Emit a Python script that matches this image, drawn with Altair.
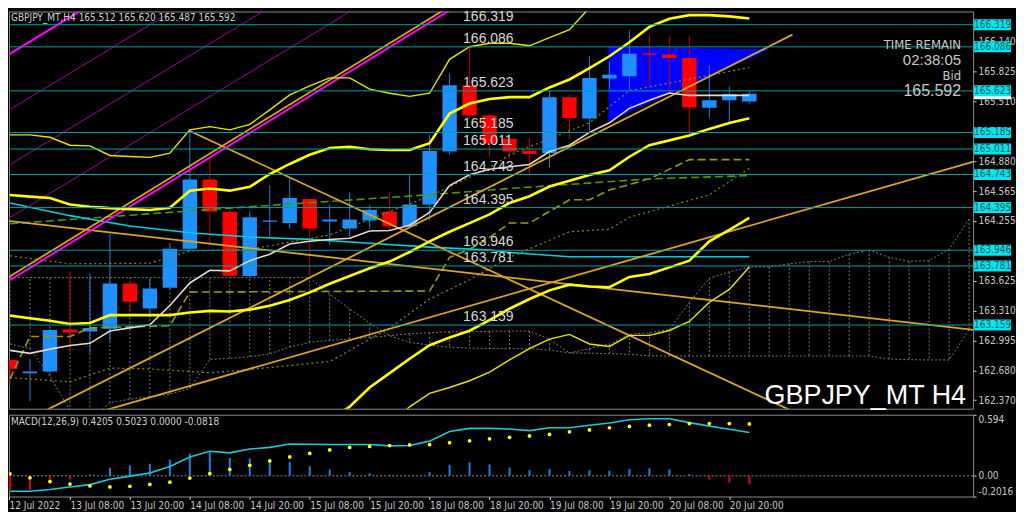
import altair as alt
import pandas as pd

# ---------------- data ----------------
bar_index = list(range(38))
opens = [162.792, 162.651, 162.671, 163.112, 163.092, 163.119, 163.595, 163.333, 163.551, 163.962,
         164.690, 164.350, 163.675, 164.245, 164.232, 164.485, 164.249, 164.174, 164.259, 164.350,
         164.198, 164.427, 164.984, 165.682, 165.365, 165.119, 164.994, 164.967, 165.557, 165.332,
         165.753, 165.777, 166.016, 166.006, 165.969, 165.446, 165.524, 165.512]
highs = [162.800, 162.802, 163.120, 163.726, 163.703, 164.124, 163.600, 163.650, 164.023, 165.203,
         164.900, 164.384, 164.360, 164.630, 164.714, 164.490, 164.427, 164.556, 164.427, 164.556,
         164.748, 165.160, 165.803, 166.080, 165.382, 165.186, 165.125, 165.625, 165.581, 165.986,
         165.929, 166.259, 166.215, 166.198, 166.198, 165.894, 165.669, 165.620]
lows = [162.520, 162.360, 162.650, 162.876, 162.859, 162.995, 163.301, 163.240, 163.530, 163.950,
        164.006, 163.670, 163.660, 164.090, 164.174, 163.668, 164.006, 164.090, 164.174, 164.158,
        164.190, 164.259, 164.950, 165.330, 164.933, 164.917, 164.721, 164.816, 165.119, 165.203,
        165.641, 165.631, 165.666, 165.608, 165.153, 165.338, 165.281, 165.487]
closes = [162.697, 162.671, 163.106, 163.082, 163.129, 163.595, 163.405, 163.544, 163.962, 164.690,
          164.353, 163.678, 164.293, 164.260, 164.495, 164.174, 164.269, 164.269, 164.371, 164.198,
          164.427, 164.991, 165.682, 165.365, 165.069, 164.984, 164.960, 165.557, 165.338, 165.757,
          165.793, 166.013, 166.003, 165.969, 165.449, 165.524, 165.591, 165.592]

levels = [166.319, 166.086, 165.623, 165.185, 165.011, 164.743, 164.395, 163.946, 163.781, 163.159]
axis_prices = [166.140, 165.825, 165.510, 164.880, 164.565, 164.255, 163.625, 163.310, 162.995, 162.680, 162.370]
bid_price = [165.592]

band_thin_up_idx = list(range(30))
band_thin_up = [165.160, 165.160, 165.135, 165.051, 165.044, 164.943, 164.933, 164.923, 164.968, 165.213,
                165.247, 165.213, 165.271, 165.423, 165.581, 165.676, 165.760, 165.760, 165.641, 165.598,
                165.565, 165.598, 165.955, 166.087, 166.124, 166.124, 166.097, 166.182, 166.266, 166.498]
band_thick_up = [164.528, 164.510, 164.495, 164.427, 164.404, 164.389, 164.379, 164.369, 164.394, 164.573,
                 164.596, 164.573, 164.613, 164.748, 164.854, 164.950, 165.021, 165.034, 165.008, 165.001,
                 165.001, 165.072, 165.385, 165.490, 165.537, 165.557, 165.557, 165.659, 165.743, 165.861,
                 165.987, 166.134, 166.296, 166.382, 166.420, 166.420, 166.407, 166.384]
band_mid = [163.258, 163.230, 163.205, 163.170, 163.180, 163.264, 163.264, 163.264, 163.264, 163.291,
            163.308, 163.301, 163.321, 163.362, 163.423, 163.503, 163.594, 163.675, 163.756, 163.827,
            163.928, 164.040, 164.141, 164.232, 164.323, 164.444, 164.515, 164.616, 164.677, 164.738,
            164.788, 164.930, 165.051, 165.102, 165.153, 165.223, 165.284, 165.335]
band_thick_lo_idx = list(range(15, 38))
band_thick_lo = [162.057, 162.168, 162.299, 162.502, 162.653, 162.805, 162.947, 163.028, 163.099, 163.210,
                 163.331, 163.433, 163.524, 163.584, 163.564, 163.557, 163.665, 163.696, 163.766, 163.837,
                 164.040, 164.161, 164.286]
band_thin_lo_idx = list(range(19, 38))
band_thin_lo = [162.117, 162.299, 162.441, 162.502, 162.573, 162.664, 162.792, 162.910, 163.011, 163.061,
                162.960, 162.934, 163.051, 163.051, 163.102, 163.197, 163.399, 163.534, 163.770]

ma_cyan_idx = [0, 3, 6, 9, 12, 15, 18, 21, 24, 25, 28, 37]
ma_cyan = [164.444, 164.310, 164.202, 164.131, 164.085, 164.060, 164.019, 163.979, 163.949, 163.923, 163.878, 163.878]
ma_beige = [162.893, 162.861, 162.906, 162.944, 162.967, 163.096, 163.129, 163.162, 163.365, 163.602,
            163.736, 163.729, 163.837, 163.905, 164.012, 164.040, 164.060, 164.073, 164.148, 164.154,
            164.209, 164.343, 164.627, 164.741, 164.799, 164.824, 164.849, 164.984, 165.051, 165.186,
            165.287, 165.439, 165.524, 165.601, 165.575, 165.575, 165.575, 165.575]

dash_green_idx = [0, 12, 21, 25, 32, 37]
dash_green = [164.225, 164.404, 164.530, 164.596, 164.697, 164.731]
dash_olive_idx = [0, 1, 3, 4, 8, 9, 21, 22, 23, 24, 25, 26, 28, 29, 30, 32, 34, 37]
dash_olive = [162.593, 163.038, 163.038, 163.129, 163.152, 163.506, 163.517, 163.871, 163.956, 164.080,
              164.232, 164.232, 164.478, 164.478, 164.579, 164.697, 164.900, 164.900]
dot_olive_hi_idx = [0, 3, 7, 9, 12, 16, 21, 24, 25, 29, 31, 37]
dot_olive_hi = [163.888, 163.804, 163.810, 163.938, 163.956, 164.108, 164.515, 164.816, 164.950, 165.287, 165.625, 165.868]
dot_olive_lo_idx = [0, 3, 5, 7, 10, 12, 16, 19, 21, 23, 25, 28, 30, 31, 33, 35, 37]
dot_olive_lo = [162.606, 162.562, 162.707, 162.697, 162.657, 162.691, 162.775, 163.129, 163.433, 163.635,
                163.871, 164.141, 164.168, 164.293, 164.411, 164.528, 164.809]

cloud_idx = list(range(49))
span_a = [162.960, 162.910, 162.623, 162.259, 162.168, 162.340, 162.380, 162.404, 162.431, 162.492,
          162.798, 162.808, 162.826, 162.856, 162.927, 162.977, 162.998, 163.011, 163.028, 163.048,
          163.068, 163.078, 163.089, 163.089, 163.094, 163.096, 163.096, 163.011, 162.866, 162.910,
          162.960, 163.061, 163.078, 163.112, 163.399, 163.652, 163.719, 163.770, 163.770, 163.804,
          163.827, 163.827, 163.905, 163.949, 163.871, 163.830, 163.837, 163.956, 164.275]
span_b = [163.658, 163.658, 163.658, 163.658, 163.658, 163.658, 163.658, 163.658, 163.658, 163.658,
          163.658, 163.658, 163.658, 163.658, 163.658, 163.658, 163.483, 163.331, 163.180, 163.048,
          162.977, 162.947, 162.927, 162.917, 162.912, 162.910, 162.910, 162.896, 162.866, 162.863,
          162.859, 162.851, 162.836, 162.833, 162.833, 162.833, 162.833, 162.833, 162.833, 162.833,
          162.833, 162.833, 162.833, 162.833, 162.802, 162.795, 162.792, 162.792, 163.112]

# straight trend lines: ([idx0, idx1], [price0, price1])
trend_gold = [([-0.2, 23.0], [163.646, 166.640]),
              ([1.87, 39.16], [162.269, 166.215]),
              ([4.53, 48.23], [162.249, 164.879]),
              ([8.97, 39.41], [165.203, 162.229]),
              ([-0.3, 48.23], [164.259, 163.109])]
trend_magenta = [([-0.2, 23.0], [163.606, 166.600]),
                 ([-0.3, 4.0], [165.975, 166.526])]
trend_purple = [([-0.3, 8.57], [165.388, 166.519]),
                ([-0.3, 13.13], [164.809, 166.519]),
                ([-0.3, 17.5], [164.252, 166.519])]

tri_idx = [29.95, 38.03]
tri_top = [166.087, 166.063]
tri_bot = [165.304, 166.063]

macd_main = [-0.151, -0.151, -0.133, -0.109, -0.086, -0.034, -0.003, 0.028, 0.090, 0.183,
             0.239, 0.223, 0.260, 0.276, 0.309, 0.306, 0.304, 0.304, 0.304, 0.291,
             0.294, 0.337, 0.430, 0.461, 0.461, 0.455, 0.439, 0.467, 0.467, 0.492,
             0.513, 0.545, 0.554, 0.554, 0.517, 0.483, 0.452, 0.421]
macd_signal = [0.019, -0.019, -0.056, -0.080, -0.099, -0.108, -0.102, -0.084, -0.062, -0.022,
               0.022, 0.062, 0.102, 0.145, 0.183, 0.217, 0.251, 0.276, 0.285, 0.294,
               0.300, 0.303, 0.322, 0.340, 0.359, 0.374, 0.387, 0.402, 0.427, 0.446,
               0.467, 0.480, 0.492, 0.498, 0.508, 0.508, 0.508, 0.504]
macd_hist = [-0.161, -0.139, -0.074, -0.037, 0.012, 0.077, 0.102, 0.118, 0.155, 0.217,
             0.226, 0.173, 0.167, 0.142, 0.133, 0.093, 0.062, 0.034, 0.025, 0.009,
             0.0, 0.034, 0.108, 0.130, 0.111, 0.080, 0.056, 0.065, 0.046, 0.053,
             0.050, 0.065, 0.074, 0.062, 0.015, -0.037, -0.068, -0.082]
macd_axis_values = [0.594, 0.0, -0.2016]

tick_index = [-0.05, 3, 6, 9, 12, 15, 18, 21, 24, 27, 30, 33, 36]
tick_labels = ["12 Jul 2022", "13 Jul 08:00", "13 Jul 20:00", "14 Jul 08:00", "14 Jul 20:00",
               "15 Jul 08:00", "15 Jul 20:00", "18 Jul 08:00", "18 Jul 20:00", "19 Jul 08:00",
               "19 Jul 20:00", "20 Jul 08:00", "20 Jul 20:00"]

title_text = ["GBPJPY_MT,H4  165.512 165.620 165.487 165.592"]
macd_text = ["MACD(12,26,9) 0.4205 0.5023 0.0000 -0.0818"]
info_texts = ["TIME REMAIN", "02:38:05", "Bid", "165.592"]
symbol_text = ["GBPJPY_MT H4"]

# ---------------- layout / style ----------------
W, H_MAIN, H_MACD = 966, 398, 82
X_DOM = [-0.05, 48.2]
Y_DOM = [162.279, 166.458]
M_DOM = [-0.2016, 0.594]
NARROW = "Liberation Sans Narrow, Arial Narrow, DejaVu Sans Condensed, Liberation Sans, sans-serif"
SANS = "Liberation Sans, Arial, sans-serif"
AXC = "#C8C8C8"

xs = alt.Scale(domain=X_DOM, nice=False, zero=False)
ys = alt.Scale(domain=Y_DOM, nice=False, zero=False)
ms = alt.Scale(domain=M_DOM, nice=False, zero=False)

AX_MAIN_Y = alt.Axis(orient="right", values=axis_prices, format=".3f", title=None,
                     labelColor=AXC, tickColor=AXC, tickSize=3, domain=False, grid=False,
                     labelPadding=2, labelFont=NARROW, labelFontSize=10)
label_expr = "[" + ",".join("'%s'" % t for t in tick_labels) + "][round(datum.value / 3)]"
AX_MACD_X = alt.Axis(values=tick_index, labelExpr=label_expr, labelAlign="left", labelColor=AXC,
                     tickColor=AXC, tickSize=3, domain=False, grid=False, labelPadding=1,
                     labelFlush=False, labelOverlap=False, title=None, labelFont=NARROW,
                     labelFontSize=10)
AX_MACD_Y = alt.Axis(orient="right", values=macd_axis_values,
                     labelExpr="datum.value == 0 ? '0.00' : datum.value + ''",
                     labelFlush=True, title=None, labelColor=AXC, tickColor=AXC, tickSize=3,
                     domain=False, grid=False, labelPadding=2, labelFont=NARROW, labelFontSize=10)


def X(f="i"):
    return alt.X(f + ":Q", scale=xs, axis=None)


def Y(f="p"):
    return alt.Y(f + ":Q", scale=ys, axis=AX_MAIN_Y)


def series(ix, vals, color, width=1.0, dash=None):
    df = pd.DataFrame({"i": ix, "p": vals})
    kw = dict(clip=True, color=color, strokeWidth=width)
    if dash:
        kw["strokeDash"] = dash
    return alt.Chart(df).mark_line(**kw).encode(x=X(), y=Y())


layers = []

# dotted cloud
cdf = pd.DataFrame({"i": cloud_idx, "a": span_a, "b": span_b})
layers.append(alt.Chart(cdf).mark_rule(clip=True, color="#7A7A7A", strokeDash=[2, 2], strokeWidth=1)
              .encode(x=X(), y=Y("a"), y2="b:Q"))
layers.append(series(cloud_idx, span_a, "#7A7A7A", 1, [2, 2]))
layers.append(series(cloud_idx, span_b, "#7A7A7A", 1, [2, 2]))

# blue triangle
tdf = pd.DataFrame({"i": tri_idx, "top": tri_top, "bot": tri_bot})
layers.append(alt.Chart(tdf).mark_area(clip=True, color="#0000FF", opacity=1)
              .encode(x=X(), y=Y("top"), y2="bot:Q"))

# candles
kdf = pd.DataFrame({"i": bar_index, "o": opens, "h": highs, "l": lows, "c": closes})
kbase = alt.Chart(kdf).transform_calculate(
    lo_b="min(datum.o, datum.c)", hi_b="max(datum.o, datum.c)",
    x1="datum.i - 0.36", x2="datum.i + 0.36")
layers.append(kbase.mark_rule(clip=True, strokeWidth=1).encode(
    x=X(), y=Y("l"), y2="h:Q",
    color=alt.condition("datum.c >= datum.o", alt.value("#1E7FE0"), alt.value("#C00000"))))
layers.append(kbase.mark_rect(clip=True).encode(
    x=alt.X("x1:Q", scale=xs, axis=None), x2="x2:Q", y=Y("lo_b"), y2="hi_b:Q",
    color=alt.condition("datum.c >= datum.o", alt.value("#1E90FF"), alt.value("#FF0000"))))

# indicator lines
layers.append(series(dot_olive_lo_idx, dot_olive_lo, "#8C8C00", 1.2, [2, 3]))
layers.append(series(dot_olive_hi_idx, dot_olive_hi, "#8C8C00", 1.2, [2, 3]))
layers.append(series(dash_olive_idx, dash_olive, "#9A9A00", 1.6, [8, 4]))
layers.append(series(dash_green_idx, dash_green, "#4C9A00", 1.6, [8, 4]))
layers.append(series(ma_cyan_idx, ma_cyan, "#00D0DC", 1.6))
for ix, pv in trend_purple:
    layers.append(series(ix, pv, "#A000A0", 1.0))
for ix, pv in trend_gold:
    layers.append(series(ix, pv, "#DAA520", 1.8))
for ix, pv in trend_magenta:
    layers.append(series(ix, pv, "#FF00FF", 2.0))
layers.append(series(band_thin_up_idx, band_thin_up, "#E6E600", 1.4))
layers.append(series(band_thin_lo_idx, band_thin_lo, "#E6E600", 1.4))
layers.append(series(bar_index, band_thick_up, "#FFFF00", 2.6))
layers.append(series(bar_index, band_mid, "#FFFF00", 2.6))
layers.append(series(band_thick_lo_idx, band_thick_lo, "#FFFF00", 2.6))
layers.append(series(bar_index, ma_beige, "#EAD8C8", 1.6))

# horizontal levels
ldf = pd.DataFrame({"p": levels})
ldf["lab"] = [f"{v:.3f}" for v in levels]
layers.append(alt.Chart(ldf).mark_rule(color="#00A0A0", strokeWidth=1).encode(
    y=Y(), x=alt.value(0), x2=alt.value(W)))
layers.append(alt.Chart(ldf).mark_text(align="left", baseline="bottom", dy=-1, fontSize=14,
                                       font=SANS, color="#D8D8D8")
              .encode(x=alt.value(455), y=Y(), text="lab:N"))

# price boxes at the right axis
bdf = pd.DataFrame({"p": bid_price})
bdf["lo"] = bdf["p"] - 0.058
bdf["hi"] = bdf["p"] + 0.058
layers.append(alt.Chart(bdf).mark_rect(color="#FFFFFF").encode(
    x=alt.value(W + 1), x2=alt.value(W + 38), y=Y("lo"), y2="hi:Q"))
ldf2 = ldf.copy()
ldf2["lo"] = ldf2["p"] - 0.058
ldf2["hi"] = ldf2["p"] + 0.058
layers.append(alt.Chart(ldf2).mark_rect(color="#00E6F0").encode(
    x=alt.value(W + 1), x2=alt.value(W + 38), y=Y("lo"), y2="hi:Q"))
layers.append(alt.Chart(ldf2).mark_text(align="center", baseline="middle", fontSize=10,
                                        font=NARROW, color="#005A5A")
              .encode(x=alt.value(W + 19.5), y=Y(), text="lab:N"))

# texts
layers.append(alt.Chart(pd.DataFrame({"t": title_text})).mark_text(
    align="left", baseline="middle", fontSize=10, font=NARROW, color="#D0D0D0")
    .encode(x=alt.value(2), y=alt.value(7), text="t:N"))
info_y = [34, 49, 65, 80]
info_size = [13, 15, 13, 16]
for k in range(4):
    layers.append(alt.Chart(pd.DataFrame({"t": [info_texts[k]]})).mark_text(
        align="right", baseline="middle", fontSize=info_size[k],
        font=NARROW if k in (0, 2) else SANS, color="#C8C8C8")
        .encode(x=alt.value(954), y=alt.value(info_y[k]), text="t:N"))
layers.append(alt.Chart(pd.DataFrame({"t": symbol_text})).mark_text(
    align="right", baseline="middle", fontSize=27, font=SANS, color="#FFFFFF")
    .encode(x=alt.value(959), y=alt.value(385), text="t:N"))

main = alt.layer(*layers).properties(width=W, height=H_MAIN)

# ---------------- MACD panel ----------------
mdf = pd.DataFrame({"i": bar_index, "m": macd_main, "s": macd_signal, "h": macd_hist})
MX = alt.X("i:Q", scale=xs, axis=AX_MACD_X)
zero = alt.Chart(pd.DataFrame({"z": [0.0]})).mark_rule(color="#909090", strokeDash=[2, 2], strokeWidth=1).encode(
    y=alt.Y("z:Q", scale=ms, axis=AX_MACD_Y), x=alt.value(0), x2=alt.value(W))
hist = alt.Chart(mdf).transform_calculate(z="0").mark_rule(clip=True, strokeWidth=2).encode(
    x=MX, y=alt.Y("h:Q", scale=ms, axis=AX_MACD_Y), y2="z:Q",
    color=alt.condition("datum.h >= 0", alt.value("#1E7FE0"), alt.value("#E00000")))
mline = alt.Chart(mdf).mark_line(clip=True, color="#1EC8D2", strokeWidth=1.6).encode(
    x=MX, y=alt.Y("m:Q", scale=ms, axis=AX_MACD_Y))
mdots = alt.Chart(mdf).mark_circle(clip=True, color="#FFFF00", size=14, opacity=1).encode(
    x=MX, y=alt.Y("s:Q", scale=ms, axis=AX_MACD_Y))
mtext = alt.Chart(pd.DataFrame({"t": macd_text})).mark_text(
    align="left", baseline="middle", fontSize=10, font=NARROW, color="#D0D0D0").encode(
    x=alt.value(2), y=alt.value(7), text="t:N")
macd = alt.layer(zero, hist, mline, mdots, mtext).properties(width=W, height=H_MACD)

chart = (alt.vconcat(main, macd, spacing=4)
         .properties(background="#000000", padding=0)
         .configure_view(stroke="#8C8C8C", strokeWidth=1, fill="#000000"))

chart.save("out.html", embed_options={"renderer": "svg", "actions": False})
